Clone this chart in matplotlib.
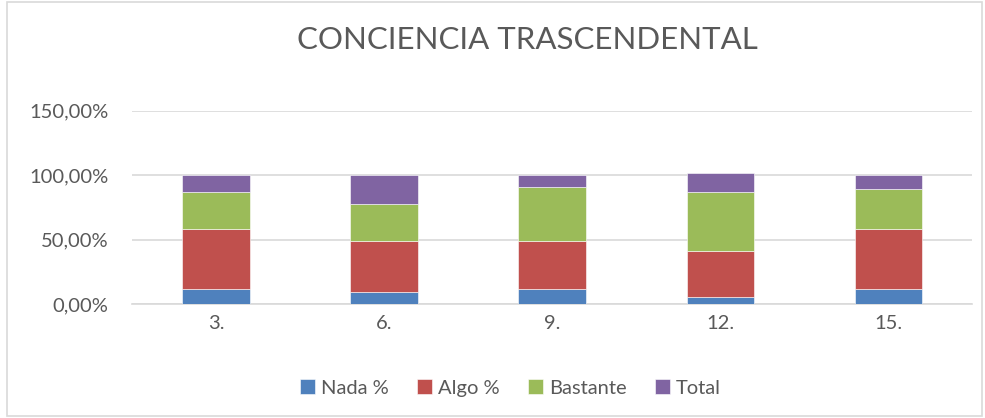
import matplotlib
matplotlib.use("Agg")
import matplotlib.pyplot as plt
from matplotlib.patches import Rectangle
from matplotlib.ticker import FuncFormatter

categories = ["3.", "6.", "9.", "12.", "15."]
nada = [0.114, 0.093, 0.114, 0.054, 0.114]
algo = [0.470, 0.398, 0.377, 0.359, 0.470]
bastante = [0.284, 0.284, 0.413, 0.455, 0.305]
total = [0.132, 0.225, 0.096, 0.150, 0.111]

series = [("Nada %", nada, "#4F81BD"), ("Algo %", algo, "#C0504D"),
          ("Bastante", bastante, "#9BBB59"), ("Total", total, "#8064A2")]

plt.rcParams['font.family'] = ['Lato', 'DejaVu Sans']
txt = "#595959"

fig = plt.figure(figsize=(9.85, 4.18), dpi=100)
ax = fig.add_axes([0.134, 0.2727, 0.853, 0.4629])

x = list(range(len(categories)))
bottom = [0.0] * len(categories)
for name, vals, col in series:
    ax.bar(x, vals, width=0.4, bottom=bottom, color=col, label=name,
           edgecolor="white", linewidth=0.4, zorder=3)
    bottom = [b + v for b, v in zip(bottom, vals)]

ax.set_xlim(-0.5, len(categories) - 0.5)
ax.set_ylim(0, 1.5)
ax.set_yticks([0, 0.5, 1.0, 1.5])
ax.yaxis.set_major_formatter(FuncFormatter(lambda v, p: f"{v*100:.2f}%".replace(".", ",")))
ax.set_xticks(x)
ax.set_xticklabels(categories)
ax.grid(axis="y", color="#d9d9d9", linewidth=1.2, zorder=0)
for s in ["top", "right", "left"]:
    ax.spines[s].set_visible(False)
ax.spines["bottom"].set_color("#d9d9d9")
ax.spines["bottom"].set_linewidth(1.2)
ax.tick_params(axis="both", length=0, labelsize=14.5, colors=txt, pad=8)
ax.tick_params(axis="y", pad=17)

fig.text(0.535, 0.905, "CONCIENCIA TRASCENDENTAL", ha="center", va="center",
         fontsize=22.5, color=txt)

leg = fig.legend(loc="center", bbox_to_anchor=(0.518, 0.072), ncol=4, frameon=False,
                 fontsize=14.5, handlelength=0.75, handleheight=0.75,
                 handletextpad=0.3, columnspacing=1.4)
for t in leg.get_texts():
    t.set_color(txt)

fig.patches.append(Rectangle((0.007, 0.005), 0.99, 0.99, transform=fig.transFigure,
                             fill=False, edgecolor="#d9d9d9", linewidth=1.2))

fig.savefig("out.png", dpi=100)
